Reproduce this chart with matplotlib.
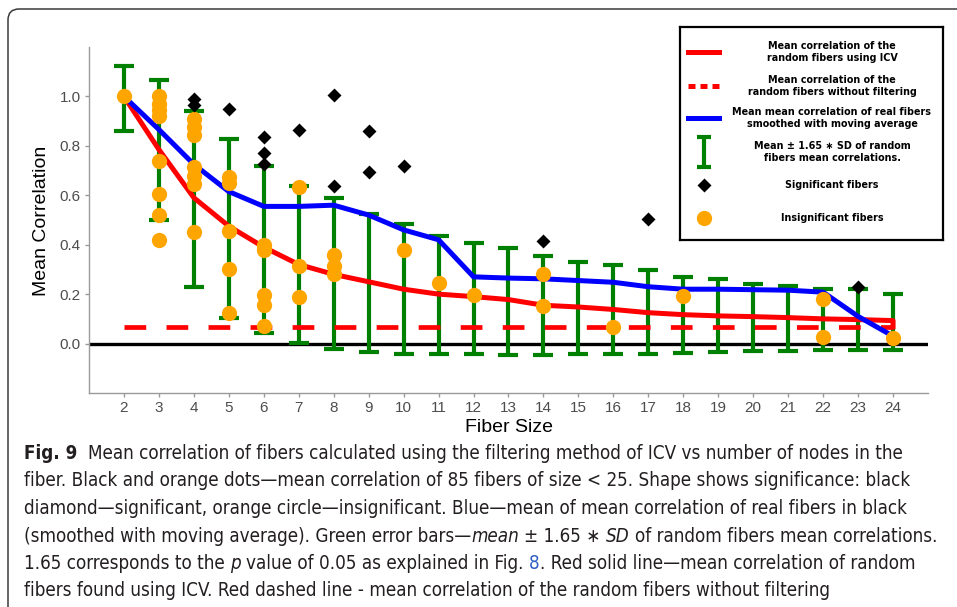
import numpy as np
import matplotlib
matplotlib.use('Agg')
import matplotlib.pyplot as plt
from matplotlib.patches import FancyBboxPatch
from matplotlib.transforms import IdentityTransform

# values
sizes = list(range(2, 25))
icv_mean = [1.0, 0.785, 0.59, 0.475, 0.39, 0.32, 0.28, 0.25, 0.22, 0.20, 0.19, 0.178,
            0.155, 0.148, 0.138, 0.125, 0.117, 0.112, 0.109, 0.105, 0.10, 0.097, 0.093]
icv_end = 0.068
nofilter_mean = 0.069
real_smooth = [1.0, 0.866, 0.725, 0.615, 0.555, 0.555, 0.56, 0.52, 0.46, 0.42, 0.27, 0.265,
               0.262, 0.255, 0.248, 0.23, 0.22, 0.22, 0.218, 0.216, 0.208, 0.11, 0.03]
err_upper = [1.125, 1.065, 0.943, 0.826, 0.72, 0.637, 0.587, 0.526, 0.483, 0.437, 0.408, 0.385,
             0.354, 0.33, 0.316, 0.296, 0.27, 0.262, 0.242, 0.232, 0.221, 0.219, 0.20]
err_lower = [0.862, 0.498, 0.228, 0.104, 0.044, 0.003, -0.02, -0.035, -0.042, -0.042, -0.042, -0.047,
             -0.047, -0.042, -0.042, -0.042, -0.038, -0.035, -0.031, -0.031, -0.027, -0.027, -0.024]

sig_x = [4, 4, 5, 6, 6, 6, 7, 8, 8, 9, 9, 10, 14, 17, 23]
sig_y = [0.99, 0.965, 0.95, 0.834, 0.773, 0.725, 0.866, 1.004, 0.636, 0.86, 0.695, 0.718, 0.414, 0.505, 0.23]

insig_x = [2, 3, 3, 3, 3, 3, 3, 3, 3, 4, 4, 4, 4, 4, 4, 4, 5, 5, 5, 5, 5, 6, 6, 6, 6, 6,
           7, 7, 7, 8, 8, 8, 10, 11, 12, 14, 14, 16, 18, 22, 22, 24]
insig_y = [1.0, 1.0, 0.97, 0.945, 0.92, 0.737, 0.607, 0.522, 0.421,
           0.91, 0.875, 0.845, 0.715, 0.68, 0.646, 0.45,
           0.675, 0.65, 0.457, 0.30, 0.125,
           0.40, 0.38, 0.198, 0.155, 0.073,
           0.633, 0.313, 0.187, 0.36, 0.313, 0.28, 0.378, 0.246, 0.196,
           0.28, 0.151, 0.066, 0.192, 0.182, 0.027, 0.023]

legend_labels = ['Mean correlation of the\nrandom fibers using ICV',
                 'Mean correlation of the\nrandom fibers without filtering',
                 'Mean mean correlation of real fibers\nsmoothed with moving average',
                 'Mean \u00b1 1.65 \u2217 SD of random\nfibers mean correlations.',
                 'Significant fibers',
                 'Insignificant fibers']

GREEN = '#008000'
ORANGE = '#FFA500'

plt.rcParams['font.family'] = ['Liberation Sans', 'DejaVu Sans']

W, H = 957, 607
fig = plt.figure(figsize=(W / 100, H / 100), dpi=100)
ax = fig.add_axes([89 / W, 1 - 393 / H, (928 - 89) / W, (393 - 47) / H])

lo = np.array(err_lower)
hi = np.array(err_upper)
mid = (lo + hi) / 2

ax.axhline(0, color='black', lw=2.4, zorder=1)
ax.errorbar(sizes, mid, yerr=(hi - lo) / 2, fmt='none', ecolor=GREEN,
            elinewidth=3, capsize=7, capthick=3, zorder=2)
ax.hlines(nofilter_mean, sizes[0], sizes[-1], colors='red', lw=3.4,
          linestyles=(0, (4.6, 4.3)), zorder=3)
ax.plot(sizes + [sizes[-1]], icv_mean + [icv_end], color='red', lw=3.6, zorder=4)
ax.plot(sizes, real_smooth, color='blue', lw=3.6, zorder=5)
ax.plot(insig_x, insig_y, 'o', color=ORANGE, ms=11, mec='none', zorder=6)
ax.plot(sig_x, sig_y, 'D', color='black', ms=7.5, mec='none', zorder=7)

ax.set_xlim(1, 25)
ax.set_ylim(-0.2, 1.2)
ax.set_xticks(sizes)
ax.set_yticks([0.0, 0.2, 0.4, 0.6, 0.8, 1.0])
ax.set_yticklabels(['0.0', '0.2', '0.4', '0.6', '0.8', '1.0'])
for s in ['top', 'right']:
    ax.spines[s].set_visible(False)
for s in ['left', 'bottom']:
    ax.spines[s].set_color('#9a9a9a')
    ax.spines[s].set_linewidth(1.0)
ax.tick_params(colors='#9a9a9a', labelcolor='#4d4d4d', length=3, width=1, labelsize=11, pad=3)

fig.text(42 / W, 1 - 221 / H, 'Mean Correlation', rotation=90, ha='center', va='center', fontsize=14)
fig.text(509 / W, 1 - 428 / H, 'Fiber Size', ha='center', va='center', fontsize=14)

# legend box drawn in its own axes (pixel-like coordinates)
lax = fig.add_axes([680 / W, 1 - 240 / H, 263 / W, 213 / H])
lax.set_xlim(680, 943)
lax.set_ylim(240, 27)
lax.set_xticks([])
lax.set_yticks([])
for s in lax.spines.values():
    s.set_linewidth(1.6)
    s.set_color('black')
rows = [52, 86, 118, 152, 185, 218]
lax.plot([688, 719], [rows[0]] * 2, color='red', lw=3.6)
lax.plot([688, 719], [rows[1]] * 2, color='red', lw=3.6, linestyle=(0, (1.4, 1.0)))
lax.plot([688, 719], [rows[2]] * 2, color='blue', lw=3.6)
lax.errorbar([704], [rows[3]], yerr=[15], fmt='none', ecolor=GREEN, elinewidth=3, capsize=5, capthick=3)
lax.plot([704], [rows[4]], 'D', color='black', ms=7.5, mec='none')
lax.plot([704], [rows[5]], 'o', color=ORANGE, ms=11, mec='none')
for y, lab in zip(rows, legend_labels):
    lax.text(832, y, lab, ha='center', va='center', fontsize=6.9, fontweight='bold',
             family=['DejaVu Sans'], linespacing=1.25)

# outer rounded frame
frame = FancyBboxPatch((8, -40), 1000, 598 + 40, boxstyle='round,pad=0,rounding_size=11',
                       transform=IdentityTransform(), fill=False, ec='#3a3a3a', lw=1.1)
fig.patches.append(frame)

# caption
rend = fig.canvas.get_renderer()
CAP = dict(color='#231f20', family=['DejaVu Sans'], stretch='condensed')


def text_w(s, size):
    t = fig.text(0, 0, s, transform=IdentityTransform(), fontsize=size, **CAP)
    w = t.get_window_extent(rend).width
    t.remove()
    return w


def put_line(parts, x, y, size, keep=True):
    space_w = text_w('a a', size) - text_w('aa', size)
    made = []
    for s, kw in parts:
        lead = len(s) - len(s.lstrip(' '))
        trail = len(s) - len(s.rstrip(' '))
        x += lead * space_w
        t = fig.text(x, H - y, s.strip(' '), transform=IdentityTransform(), va='baseline',
                     fontsize=size, **{**CAP, **kw})
        made.append(t)
        x += t.get_window_extent(rend).width + trail * space_w
    if not keep:
        for t in made:
            t.remove()
    return x


N = {}
B = {'fontweight': 'bold'}
I = {'style': 'italic'}
L = {'color': '#2f5fc4'}
caption = [
    [('Fig. 9', B), ('  Mean correlation of fibers calculated using the filtering method of ICV vs number of nodes in the', N)],
    [('fiber. Black and orange dots\u2014mean correlation of 85 fibers of size < 25. Shape shows significance: black', N)],
    [('diamond\u2014significant, orange circle\u2014insignificant. Blue\u2014mean of mean correlation of real fibers in black', N)],
    [('(smoothed with moving average). Green error bars\u2014', N), ('mean', I), (' \u00b1 1.65 \u2217 ', N), ('SD', I),
     (' of random fibers mean correlations.', N)],
    [('1.65 corresponds to the ', N), ('p', I), (' value of 0.05 as explained in Fig. ', N), ('8', L),
     ('. Red solid line\u2014mean correlation of random', N)],
    [('fibers found using ICV. Red dashed line - mean correlation of the random fibers without filtering', N)],
]
# pick the caption size so that the first line spans the same width as in the figure
base = 15
w1 = put_line(caption[0], 24, 459, base, keep=False) - 24
cap_size = base * (905 - 24) / w1
for i, parts in enumerate(caption):
    put_line(parts, 24, 459 + i * 27.5, cap_size)

fig.savefig('out.png', dpi=100)
